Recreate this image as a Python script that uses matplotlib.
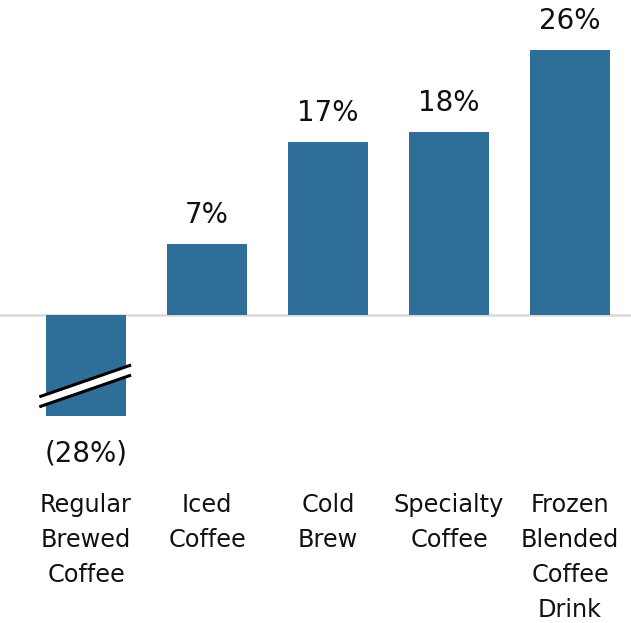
import matplotlib
matplotlib.use("Agg")
import matplotlib.pyplot as plt
from matplotlib.patches import Polygon

categories = ["Regular\nBrewed\nCoffee", "Iced\nCoffee", "Cold\nBrew", "Specialty\nCoffee", "Frozen\nBlended\nCoffee\nDrink"]
values = [-28, 7, 17, 18, 26]
value_labels = ["(28%)", "7%", "17%", "18%", "26%"]
break_display = -9.9  # truncated display length for broken bar

plt.rcParams['font.family'] = ['DejaVu Sans']

fig = plt.figure(figsize=(6.31, 6.23), dpi=100)
ax = fig.add_axes([0, 0, 1, 1])
ax.set_xlim(-0.711, 4.504)
ax.set_ylim(-30.2, 30.9)
ax.axis('off')

color = '#2f6e98'
disp = [v if v > break_display else break_display for v in values]
x = list(range(len(values)))
ax.axhline(0, color='#d9d9d9', lw=1.8, zorder=1)
ax.bar(x, disp, width=0.661, color=color, zorder=2)

for i, (v, d, lab) in enumerate(zip(values, disp, value_labels)):
    if v >= 0:
        ax.annotate(lab, (i, d), xytext=(0, 20.5), textcoords='offset points',
                    ha='center', va='center', fontsize=20, color='#111111')
    else:
        ax.annotate(lab, (i, d), xytext=(0, -27), textcoords='offset points',
                    ha='center', va='center', fontsize=20, color='#111111')
    ax.annotate(categories[i], (i, 0), xycoords='data', xytext=(0, -128),
                textcoords='offset points', ha='center', va='top',
                fontsize=17.3, linespacing=1.58, color='#111111')

# break marker
bx0, bx1 = -0.386, 0.372
up0, up1 = -8.02, -4.9
lo0, lo1 = -9.0, -5.89
poly = Polygon([(bx0, up0), (bx1, up1), (bx1, lo1), (bx0, lo0)], closed=True,
               facecolor='white', edgecolor='none', zorder=3)
ax.add_patch(poly)
ax.plot([bx0, bx1], [up0, up1], color='black', lw=2.2, zorder=4, solid_capstyle='butt')
ax.plot([bx0, bx1], [lo0, lo1], color='black', lw=2.2, zorder=4, solid_capstyle='butt')

fig.savefig('out.png', dpi=100)
